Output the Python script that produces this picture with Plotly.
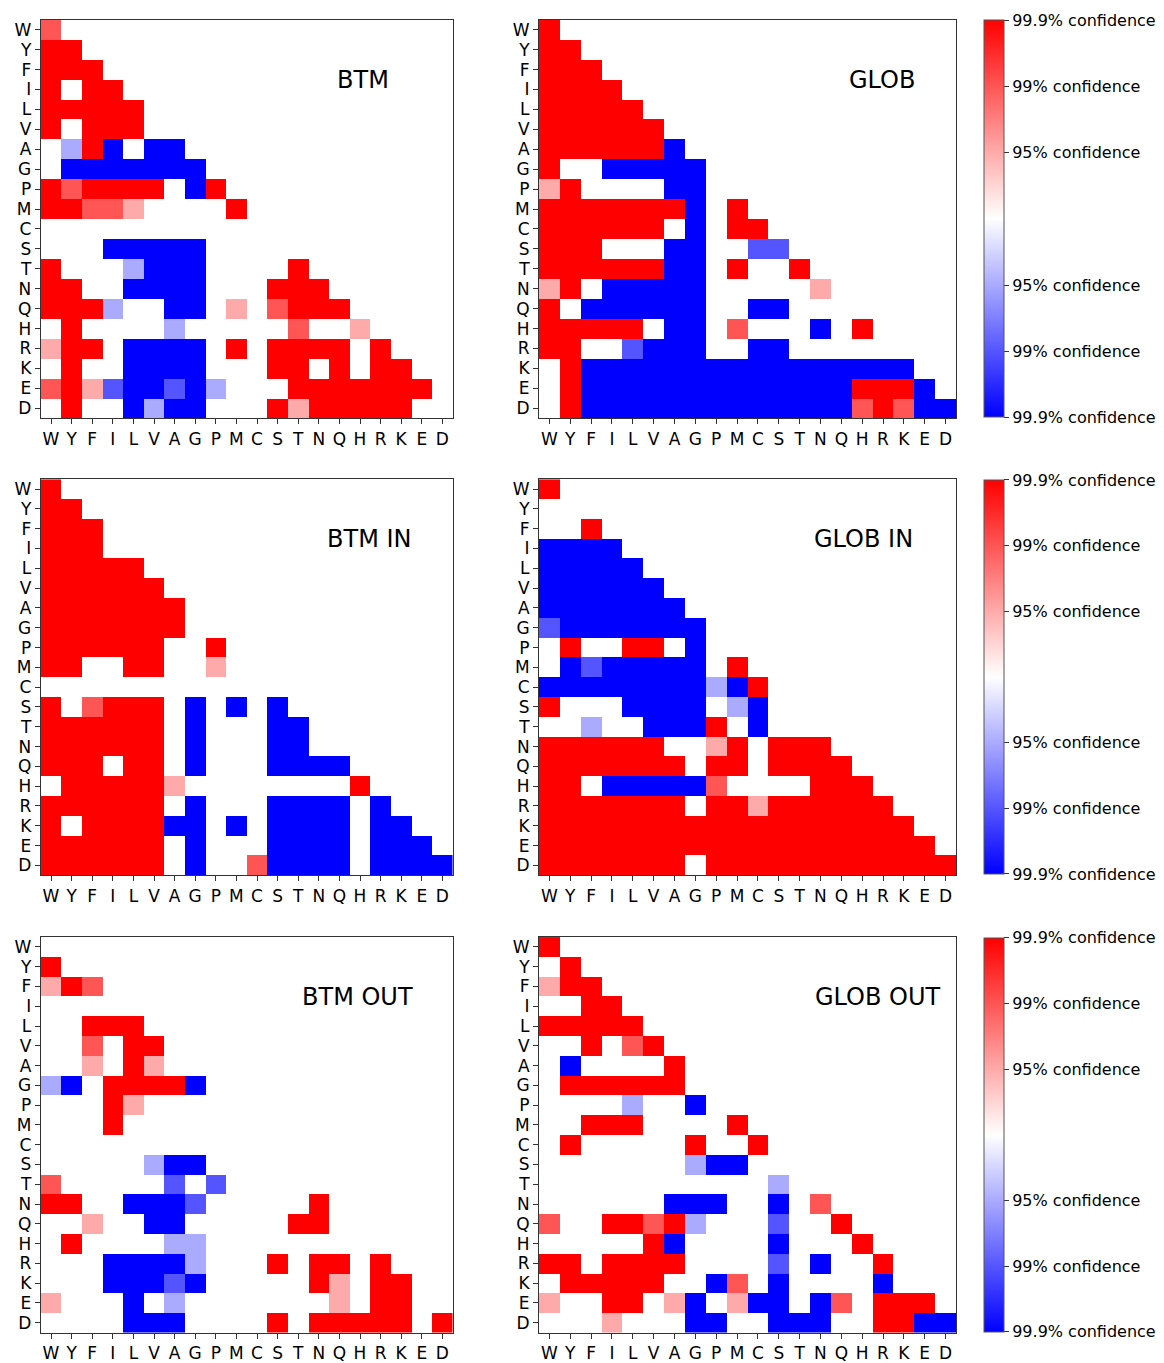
import plotly.graph_objects as go

AA = ["W", "Y", "F", "I", "L", "V", "A", "G", "P", "M",
      "C", "S", "T", "N", "Q", "H", "R", "K", "E", "D"]

# Lower-triangle significance codes: +3/+2/+1 = red 99.9/99/95 %, -1/-2/-3 = blue 95/99/99.9 %
BTM = [
    [2],
    [3, 3],
    [3, 3, 3],
    [3, 0, 3, 3],
    [3, 3, 3, 3, 3],
    [3, 0, 3, 3, 3, 0],
    [0, -1, 3, -3, 0, -3, -3],
    [0, -3, -3, -3, -3, -3, -3, -3],
    [3, 2, 3, 3, 3, 3, 0, -3, 3],
    [3, 3, 2, 2, 1, 0, 0, 0, 0, 3],
    [0, 0, 0, 0, 0, 0, 0, 0, 0, 0, 0],
    [0, 0, 0, -3, -3, -3, -3, -3, 0, 0, 0, 0],
    [3, 0, 0, 0, -1, -3, -3, -3, 0, 0, 0, 0, 3],
    [3, 3, 0, 0, -3, -3, -3, -3, 0, 0, 0, 3, 3, 3],
    [3, 3, 3, -1, 0, 0, -3, -3, 0, 1, 0, 2, 3, 3, 3],
    [0, 3, 0, 0, 0, 0, -1, 0, 0, 0, 0, 0, 2, 0, 0, 1],
    [1, 3, 3, 0, -3, -3, -3, -3, 0, 3, 0, 3, 3, 3, 3, 0, 3],
    [0, 3, 0, 0, -3, -3, -3, -3, 0, 0, 0, 3, 3, 0, 3, 0, 3, 3],
    [2, 3, 1, -2, -3, -3, -2, -3, -1, 0, 0, 0, 3, 3, 3, 3, 3, 3, 3],
    [0, 3, 0, 0, -3, -1, -3, -3, 0, 0, 0, 3, 1, 3, 3, 3, 3, 3, 0, 0],
]

GLOB = [
    [3],
    [3, 3],
    [3, 3, 3],
    [3, 3, 3, 3],
    [3, 3, 3, 3, 3],
    [3, 3, 3, 3, 3, 3],
    [3, 3, 3, 3, 3, 3, -3],
    [3, 0, 0, -3, -3, -3, -3, -3],
    [1, 3, 0, 0, 0, 0, -3, -3, 0],
    [3, 3, 3, 3, 3, 3, 3, -3, 0, 3],
    [3, 3, 3, 3, 3, 3, 0, -3, 0, 3, 3],
    [3, 3, 3, 0, 0, 0, -3, -3, 0, 0, -2, -2],
    [3, 3, 3, 3, 3, 3, -3, -3, 0, 3, 0, 0, 3],
    [1, 3, 0, -3, -3, -3, -3, -3, 0, 0, 0, 0, 0, 1],
    [3, 0, -3, -3, -3, -3, -3, -3, 0, 0, -3, -3, 0, 0, 0],
    [3, 3, 3, 3, 3, 0, -3, -3, 0, 2, 0, 0, 0, -3, 0, 3],
    [3, 3, 0, 0, -2, -3, -3, -3, 0, 0, -3, -3, 0, 0, 0, 0, 0],
    [0, 3, -3, -3, -3, -3, -3, -3, -3, -3, -3, -3, -3, -3, -3, -3, -3, -3],
    [0, 3, -3, -3, -3, -3, -3, -3, -3, -3, -3, -3, -3, -3, -3, 3, 3, 3, -3],
    [0, 3, -3, -3, -3, -3, -3, -3, -3, -3, -3, -3, -3, -3, -3, 2, 3, 2, -3, -3],
]

BTM_IN = [
    [3],
    [3, 3],
    [3, 3, 3],
    [3, 3, 3, 0],
    [3, 3, 3, 3, 3],
    [3, 3, 3, 3, 3, 3],
    [3, 3, 3, 3, 3, 3, 3],
    [3, 3, 3, 3, 3, 3, 3, 0],
    [3, 3, 3, 3, 3, 3, 0, 0, 3],
    [3, 3, 0, 0, 3, 3, 0, 0, 1, 0],
    [0, 0, 0, 0, 0, 0, 0, 0, 0, 0, 0],
    [3, 0, 2, 3, 3, 3, 0, -3, 0, -3, 0, -3],
    [3, 3, 3, 3, 3, 3, 0, -3, 0, 0, 0, -3, -3],
    [3, 3, 3, 3, 3, 3, 0, -3, 0, 0, 0, -3, -3, 0],
    [3, 3, 3, 0, 3, 3, 0, -3, 0, 0, 0, -3, -3, -3, -3],
    [0, 3, 3, 3, 3, 3, 1, 0, 0, 0, 0, 0, 0, 0, 0, 3],
    [3, 3, 3, 3, 3, 3, 0, -3, 0, 0, 0, -3, -3, -3, -3, 0, -3],
    [3, 0, 3, 3, 3, 3, -3, -3, 0, -3, 0, -3, -3, -3, -3, 0, -3, -3],
    [3, 3, 3, 3, 3, 3, 0, -3, 0, 0, 0, -3, -3, -3, -3, 0, -3, -3, -3],
    [3, 3, 3, 3, 3, 3, 0, -3, 0, 0, 2, -3, -3, -3, -3, 0, -3, -3, -3, -3],
]

GLOB_IN = [
    [3],
    [0, 0],
    [0, 0, 3],
    [-3, -3, -3, -3],
    [-3, -3, -3, -3, -3],
    [-3, -3, -3, -3, -3, -3],
    [-3, -3, -3, -3, -3, -3, -3],
    [-2, -3, -3, -3, -3, -3, -3, -3],
    [0, 3, 0, 0, 3, 3, 0, -3, 0],
    [0, -3, -2, -3, -3, -3, -3, -3, 0, 3],
    [-3, -3, -3, -3, -3, -3, -3, -3, -1, -3, 3],
    [3, 0, 0, 0, -3, -3, -3, -3, 0, -1, -3, 0],
    [0, 0, -1, 0, 0, -3, -3, -3, 3, 0, -3, 0, 0],
    [3, 3, 3, 3, 3, 3, 0, 0, 1, 3, 0, 3, 3, 3],
    [3, 3, 3, 3, 3, 3, 3, 0, 3, 3, 0, 3, 3, 3, 3],
    [3, 3, 0, -3, -3, -3, -3, -3, 2, 0, 0, 0, 0, 3, 3, 3],
    [3, 3, 3, 3, 3, 3, 3, 0, 3, 3, 1, 3, 3, 3, 3, 3, 3],
    [3, 3, 3, 3, 3, 3, 3, 3, 3, 3, 3, 3, 3, 3, 3, 3, 3, 3],
    [3, 3, 3, 3, 3, 3, 3, 3, 3, 3, 3, 3, 3, 3, 3, 3, 3, 3, 3],
    [3, 3, 3, 3, 3, 3, 3, 0, 3, 3, 3, 3, 3, 3, 3, 3, 3, 3, 3, 3],
]

BTM_OUT = [
    [0],
    [3, 0],
    [1, 3, 2],
    [0, 0, 0, 0],
    [0, 0, 3, 3, 3],
    [0, 0, 2, 0, 3, 3],
    [0, 0, 1, 0, 3, 1, 0],
    [-1, -3, 0, 3, 3, 3, 3, -3],
    [0, 0, 0, 3, 1, 0, 0, 0, 0],
    [0, 0, 0, 3, 0, 0, 0, 0, 0, 0],
    [0, 0, 0, 0, 0, 0, 0, 0, 0, 0, 0],
    [0, 0, 0, 0, 0, -1, -3, -3, 0, 0, 0, 0],
    [2, 0, 0, 0, 0, 0, -2, 0, -2, 0, 0, 0, 0],
    [3, 3, 0, 0, -3, -3, -3, -2, 0, 0, 0, 0, 0, 3],
    [0, 0, 1, 0, 0, -3, -3, 0, 0, 0, 0, 0, 3, 3, 0],
    [0, 3, 0, 0, 0, 0, -1, -1, 0, 0, 0, 0, 0, 0, 0, 0],
    [0, 0, 0, -3, -3, -3, -3, -1, 0, 0, 0, 3, 0, 3, 3, 0, 3],
    [0, 0, 0, -3, -3, -3, -2, -3, 0, 0, 0, 0, 0, 3, 1, 0, 3, 3],
    [1, 0, 0, 0, -3, 0, -1, 0, 0, 0, 0, 0, 0, 0, 1, 0, 3, 3, 0],
    [0, 0, 0, 0, -3, -3, -3, 0, 0, 0, 0, 3, 0, 3, 3, 3, 3, 3, 0, 3],
]

GLOB_OUT = [
    [3],
    [0, 3],
    [1, 3, 3],
    [0, 0, 3, 3],
    [3, 3, 3, 3, 3],
    [0, 0, 3, 0, 2, 3],
    [0, -3, 0, 0, 0, 0, 3],
    [0, 3, 3, 3, 3, 3, 3, 0],
    [0, 0, 0, 0, -1, 0, 0, -3, 0],
    [0, 0, 3, 3, 3, 0, 0, 0, 0, 3],
    [0, 3, 0, 0, 0, 0, 0, 3, 0, 0, 3],
    [0, 0, 0, 0, 0, 0, 0, -1, -3, -3, 0, 0],
    [0, 0, 0, 0, 0, 0, 0, 0, 0, 0, 0, -1, 0],
    [0, 0, 0, 0, 0, 0, -3, -3, -3, 0, 0, -3, 0, 2],
    [2, 0, 0, 3, 3, 2, 3, -1, 0, 0, 0, -2, 0, 0, 3],
    [0, 0, 0, 0, 0, 3, -3, 0, 0, 0, 0, -3, 0, 0, 0, 3],
    [3, 3, 0, 3, 3, 3, 3, 0, 0, 0, 0, -2, 0, -3, 0, 0, 3],
    [0, 3, 3, 3, 3, 3, 0, 0, -3, 2, 0, -3, 0, 0, 0, 0, -3, 0],
    [1, 0, 0, 3, 3, 0, 1, -3, 0, 1, -3, -3, 0, -3, 2, 0, 3, 3, 3],
    [0, 0, 0, 1, 0, 0, 0, -3, -3, 0, 0, -3, -3, -3, 0, 0, 3, 3, -3, -3],
]

PANEL_TITLES = ["BTM", "GLOB", "BTM IN", "GLOB IN", "BTM OUT", "GLOB OUT"]
CBAR_VALUES = [3, 2, 1, -1, -2, -3]
CBAR_LABELS = ["99.9% confidence", "99% confidence", "95% confidence",
               "95% confidence", "99% confidence", "99.9% confidence"]

W, H = 1164, 1363
FONT = "DejaVu Sans"

def pad(m):
    return [row + [None] * (len(AA) - len(row)) for row in m]

panels = [BTM, GLOB, BTM_IN, GLOB_IN, BTM_OUT, GLOB_OUT]
title_pos = [0.782, 0.823, 0.798, 0.777, 0.768, 0.814]

xdom = {0: (40.7, 452.7), 1: (539.0, 956.0)}
ydom = {0: (19.8, 419.8), 1: (481.0, 878.5), 2: (940.5, 1337.5)}

fig = go.Figure()
layout = dict(
    width=W, height=H,
    margin=dict(l=0, r=0, t=0, b=0),
    paper_bgcolor="white", plot_bgcolor="white",
    font=dict(family=FONT, color="black"),
    showlegend=False,
    annotations=[],
)

for i, (m, title) in enumerate(zip(panels, PANEL_TITLES)):
    r, c = divmod(i, 2)
    k = i + 1
    xa = "x" if k == 1 else f"x{k}"
    ya = "y" if k == 1 else f"y{k}"
    ca = "coloraxis" if r == 0 else f"coloraxis{r + 1}"
    fig.add_trace(go.Heatmap(
        z=pad(m), x=AA, y=AA, xaxis=xa, yaxis=ya, coloraxis=ca,
        hoverongaps=False,
    ))
    x0, x1 = xdom[c]
    y0, y1 = ydom[r]
    axis_common = dict(
        showline=True, mirror=True, linecolor="#333", linewidth=1,
        ticks="outside", ticklen=5, tickcolor="#333",
        showgrid=False, zeroline=False,
        tickfont=dict(family=FONT, size=17, color="black"),
        tickmode="array", tickvals=AA, ticktext=AA,
        fixedrange=True,
    )
    layout[f"xaxis{'' if k == 1 else k}"] = dict(
        axis_common, domain=[x0 / W, x1 / W], anchor=ya,
        range=[-0.5, len(AA) - 0.5],
    )
    layout[f"yaxis{'' if k == 1 else k}"] = dict(
        axis_common, domain=[1 - y1 / H, 1 - y0 / H], anchor=xa,
        range=[len(AA) - 0.5, -0.5],
    )
    layout["annotations"].append(dict(
        text=title, xref=f"{xa} domain", yref=f"{ya} domain",
        x=title_pos[i], y=0.848, xanchor="center", yanchor="middle",
        showarrow=False, font=dict(family=FONT, size=24, color="black"),
    ))

for r in range(3):
    ca = "coloraxis" if r == 0 else f"coloraxis{r + 1}"
    y0, y1 = ydom[r]
    layout[ca] = dict(
        cmin=-3, cmax=3,
        colorscale=[[0, "rgb(0,0,255)"], [0.5, "rgb(255,255,255)"], [1, "rgb(255,0,0)"]],
        colorbar=dict(
            x=984 / W, xanchor="left", xpad=0,
            y=1 - (y0 + 0.7) / H, yanchor="top", ypad=0,
            len=(y1 - y0 - 2) / H, lenmode="fraction",
            thickness=20, thicknessmode="pixels",
            outlinewidth=1, outlinecolor="#555",
            tickmode="array", tickvals=CBAR_VALUES, ticktext=CBAR_LABELS,
            ticks="outside", ticklen=5, tickcolor="#333",
            tickfont=dict(family=FONT, size=16, color="black"),
        ),
    )

fig.update_layout(**layout)
fig.write_html("out.html")
